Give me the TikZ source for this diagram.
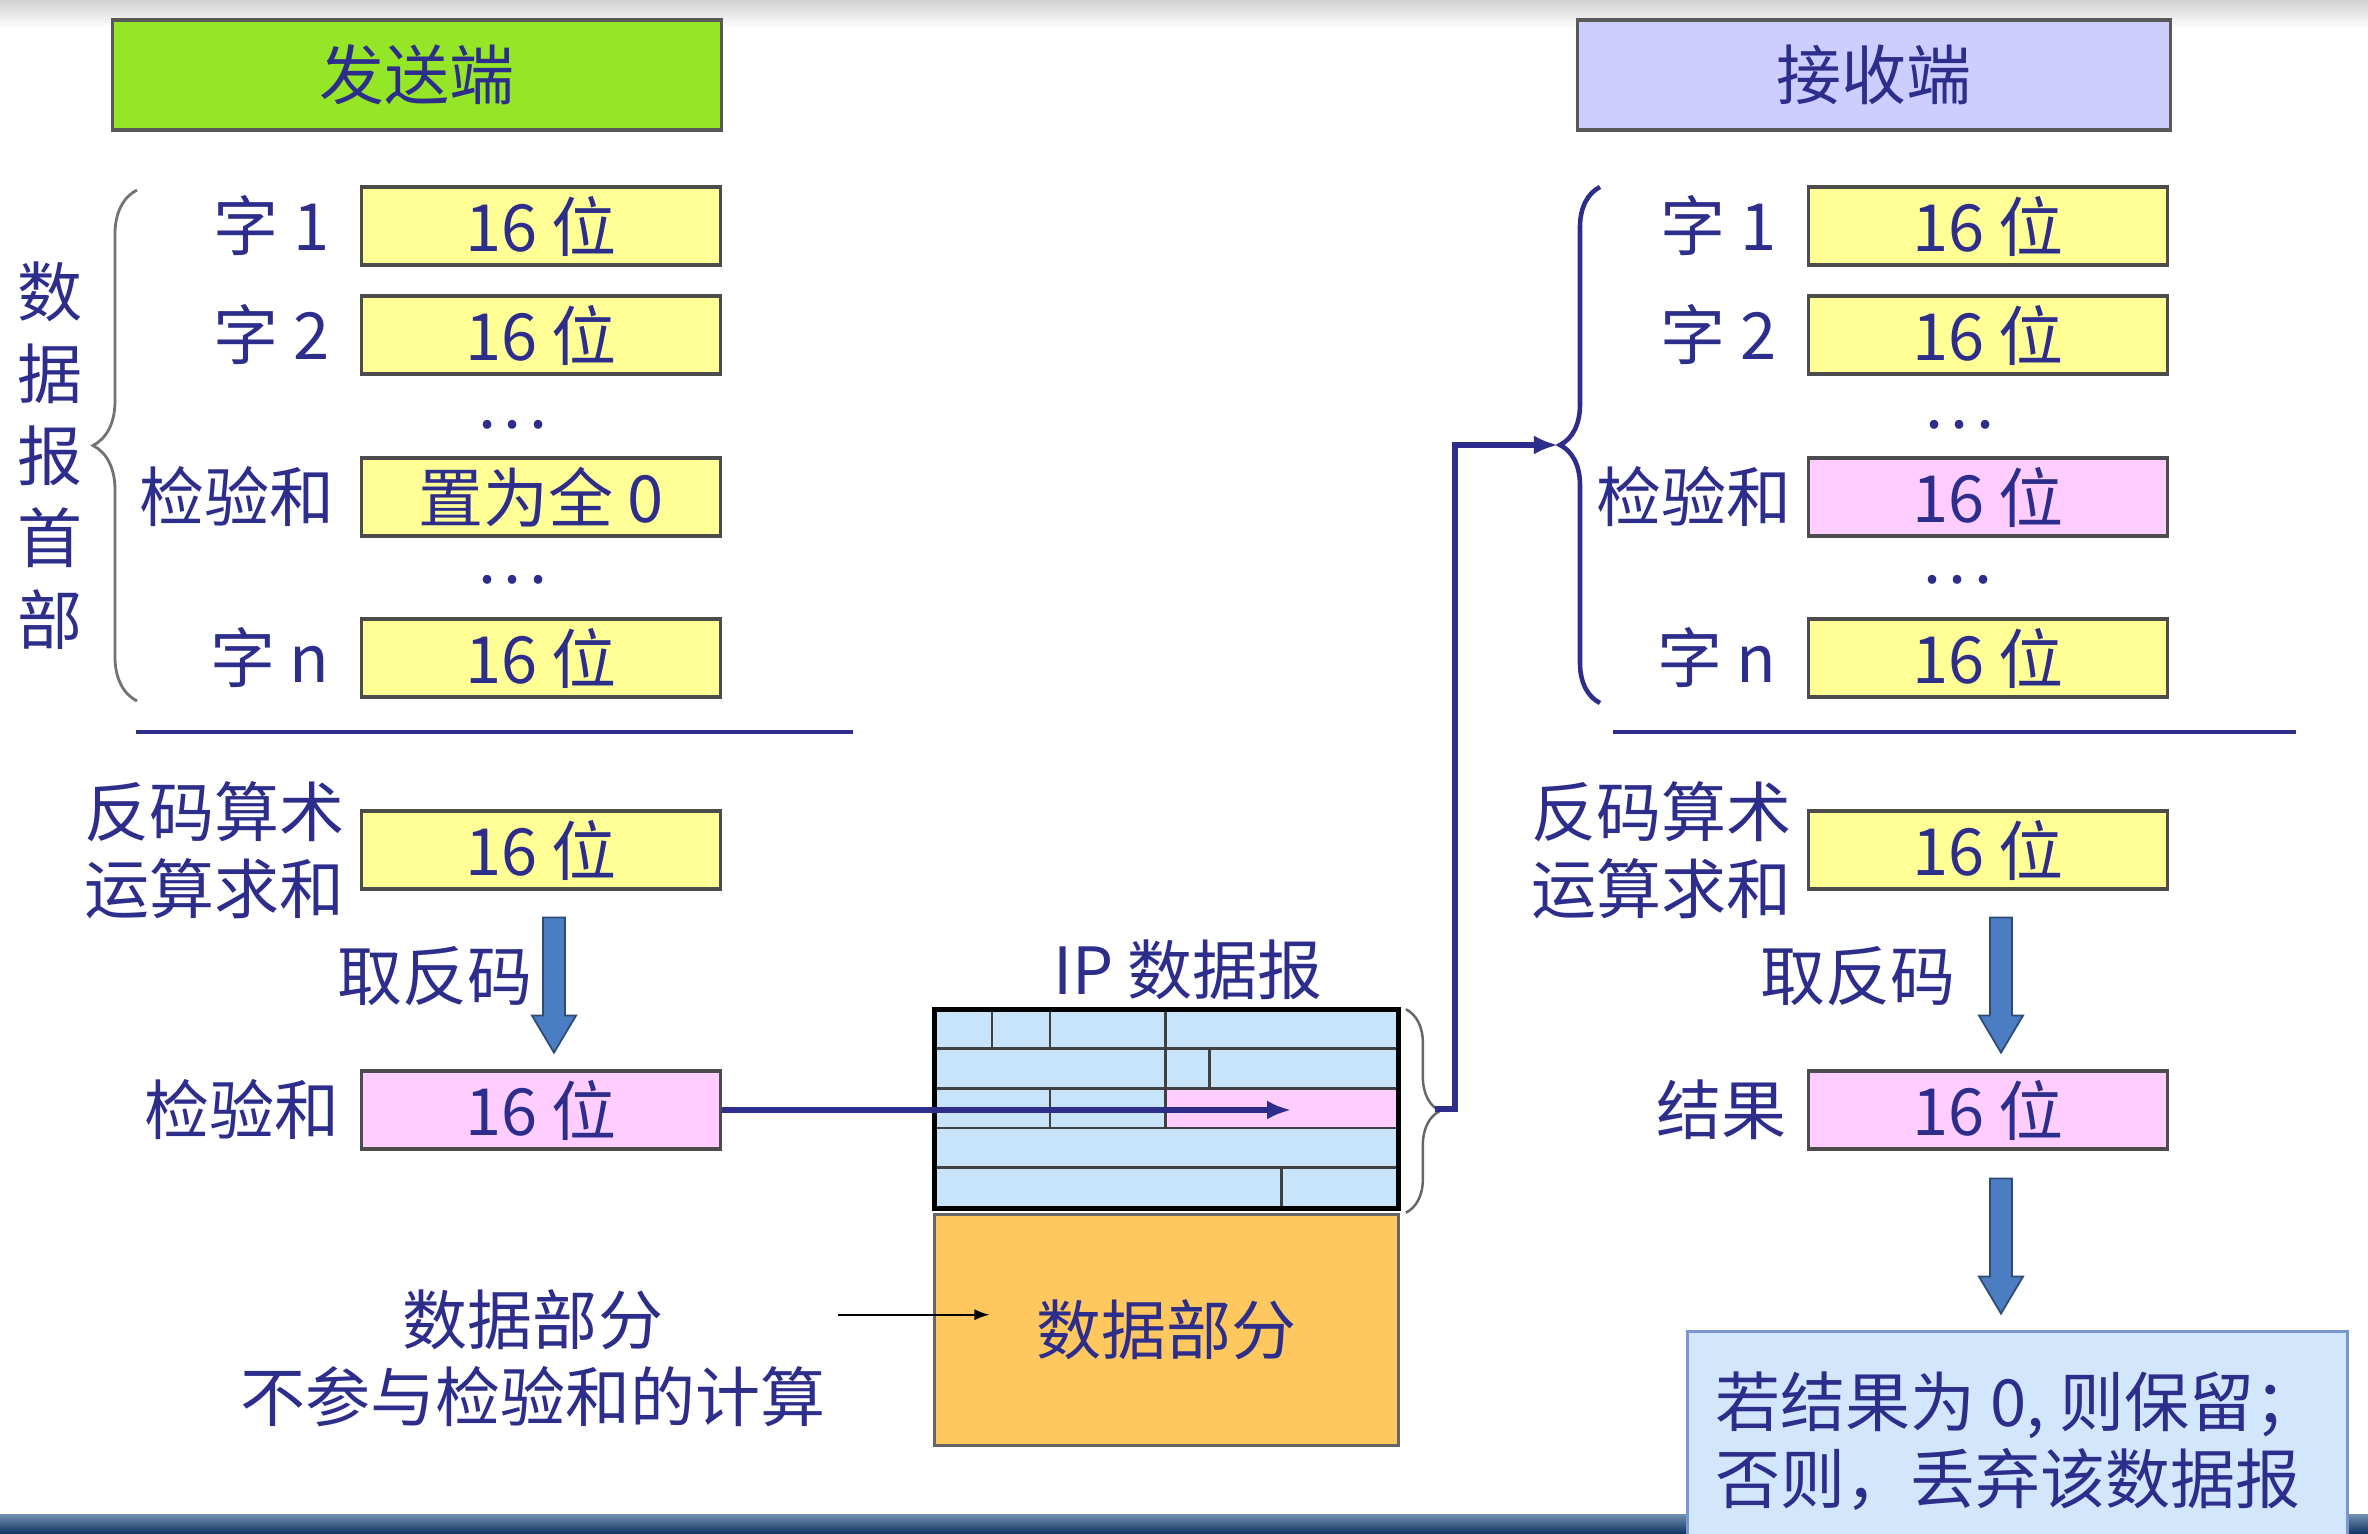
\documentclass[tikz,border=0pt]{standalone}
\usepackage{fontspec}
\setmainfont{Noto Sans CJK SC}
\usetikzlibrary{positioning,decorations.pathreplacing,arrows.meta}
\definecolor{ink}{RGB}{45,45,140}
\definecolor{wordyellow}{RGB}{255,255,150}
\definecolor{pinkbox}{RGB}{255,205,255}
\definecolor{sendgreen}{RGB}{150,230,40}
\definecolor{recvlav}{RGB}{205,205,255}
\definecolor{hdrblue}{RGB}{200,228,250}
\definecolor{dataorange}{RGB}{255,200,95}
\definecolor{verdictblue}{RGB}{210,230,252}
\definecolor{verdictedge}{RGB}{120,150,210}
\definecolor{fatblue}{RGB}{75,125,195}
\definecolor{bandtop}{RGB}{110,140,175}
\definecolor{bandbot}{RGB}{15,50,95}
\newcommand\fatdown[1]{\filldraw[fatarrow] #1 ++(-11,0) -- ++(0,98) -- ++(-11,0) -- ++(22,37) -- ++(22,-37) -- ++(-11,0) -- ++(0,-98) -- cycle;}

\begin{document}
\begin{tikzpicture}[x=0.01cm, y=-0.01cm, font=\fontsize{18.5}{22}\selectfont, text=ink,
    >={Latex[length=0.24cm,width=0.19cm]},
    field/.style={draw=black!70, line width=0.9pt, fill=wordyellow, minimum width=3.58cm, minimum height=0.78cm, inner sep=0},
    pinkfield/.style={field, fill=pinkbox},
    lbl/.style={inner sep=0, align=right},
    endbox/.style={draw=black!65, line width=0.9pt, minimum height=1.1cm, inner sep=0},
    link/.style={draw=ink, line width=1.8pt},
    divider/.style={draw=ink, line width=1.4pt},
    fatarrow/.style={fill=fatblue, draw=fatblue!60!black, line width=0.5pt},
    gridline/.style={draw=black!75, line width=0.8pt},
    thinarrow/.style={draw=black, line width=0.5pt, -{Latex[length=0.15cm,width=0.11cm]}},
    curly/.style={decorate, decoration={brace, amplitude=#1}}]
  \useasboundingbox (0,0) rectangle (2368,1534);
  \clip (0,0) rectangle (2368,1534);
  \fill[white] (0,0) rectangle (2368,1534);
  \shade[top color=black!18, bottom color=white] (0,0) rectangle (2368,28);
  \shade[top color=bandtop, bottom color=bandbot] (0,1515) rectangle (2368,1534);

  \node[endbox, fill=sendgreen, minimum width=6.09cm] (snd) at (417,75) {发送端};
  \node[endbox, fill=recvlav, minimum width=5.93cm] (rcv) at (1874,75) {接收端};

  \node[field] (sw1) at (541,226) {16 位};
  \node[field] (sw2) at (541,335) {16 位};
  \node[field] (scs) at (541,497) {置为全 0};
  \node[field] (swn) at (541,658) {16 位};
  \node[lbl, left=0.3cm of sw1] (sl1) {字 1};
  \node[lbl, left=0.3cm of sw2] (sl2) {字 2};
  \node[lbl, left=0.25cm of scs] (slcs) {检验和};
  \node[lbl, left=0.3cm of swn] (sln) {字 n};
  \node (sd1) at (513,425) {.\hspace{2pt}.\hspace{2pt}.};
  \node (sd2) at (513,580) {.\hspace{2pt}.\hspace{2pt}.};
  \draw[curly=0.44cm, draw=black!55, line width=0.8pt] (137,701) -- (137,190);
  \foreach \c [count=\i from 0] in {数,据,报,首,部}
    \node (vt\i) at (50,292+82*\i) {\c};
  \draw[divider] (136,732) -- (853,732);

  \node[field] (ssum) at (541,850) {16 位};
  \node[lbl, left=0.15cm of ssum] (ssuml) {反码算术\\运算求和};
  \fatdown{([xshift=0.13cm,yshift=-0.27cm]ssum.south)}
  \node[lbl, anchor=east] (sinv) at (533,976) {取反码};
  \node[pinkfield] (scsum) at (541,1110) {16 位};
  \node[lbl, left=0.2cm of scsum] (scsuml) {检验和};

  \node[fill=hdrblue, minimum width=4.63cm, minimum height=1.98cm, inner sep=0] (hdr) at (1166.5,1109) {};
  \begin{scope}[shift={(hdr.north west)}]
    \fill[pinkbox] (231.5,79.2) rectangle (463,118.8);
    \foreach \r in {1,...,4}
      \draw[gridline] (0,39.6*\r) -- (463,39.6*\r);
    \foreach \b/\r in {4/0,8/0,16/0,16/1,19/1,8/2,16/2,24/4}
      \draw[gridline] (14.47*\b,39.6*\r) -- (14.47*\b,39.6*\r+39.6);
    \coordinate (chk) at (357,99);
  \end{scope}
  \draw[line width=1.4pt] (hdr.north west) rectangle (hdr.south east);
  \node (iplbl) at (1188,970) {IP 数据报};
  \node[draw=black!60, line width=0.8pt, fill=dataorange, minimum width=4.63cm, minimum height=2.31cm, inner sep=0, below=0.04cm of hdr] (data) {数据部分};
  \draw[curly=0.34cm, draw=black!60, line width=0.7pt] ([xshift=2pt]hdr.north east) -- ([xshift=2pt,yshift=-0.04cm]hdr.south east);
  \coordinate (hdrtip) at ([xshift=0.36cm]hdr.east);
  \draw[link,->] (scsum.east) -- (scsum.east -| chk);

  \node[align=center] (note) at (533,1358) {数据部分\\不参与检验和的计算};
  \coordinate (datain) at ([xshift=0.56cm,yshift=0.15cm]data.west);
  \draw[thinarrow] (note.east |- datain) -- (datain);

  \node[field] (rw1) at (1988,226) {16 位};
  \node[field] (rw2) at (1988,335) {16 位};
  \node[pinkfield] (rcs) at (1988,497) {16 位};
  \node[field] (rwn) at (1988,658) {16 位};
  \node[lbl, left=0.3cm of rw1] (rl1) {字 1};
  \node[lbl, left=0.3cm of rw2] (rl2) {字 2};
  \node[lbl, left=0.15cm of rcs] (rlcs) {检验和};
  \node[lbl, left=0.3cm of rwn] (rln) {字 n};
  \node (rd1) at (1960,425) {.\hspace{2pt}.\hspace{2pt}.};
  \node (rd2) at (1958,580) {.\hspace{2pt}.\hspace{2pt}.};
  \draw[curly=0.4cm, draw=ink, line width=1.3pt] (1600,703) -- (1600,187);
  \coordinate (rcvtip) at (1558,445);
  \coordinate (vbar) at (1455,445);
  \draw[link,->] (hdrtip) -| (vbar) -- (rcvtip);
  \draw[divider] (1613,732) -- (2296,732);

  \node[field] (rsum) at (1988,850) {16 位};
  \node[lbl, left=0.15cm of rsum] (rsuml) {反码算术\\运算求和};
  \fatdown{([xshift=0.13cm,yshift=-0.27cm]rsum.south)}
  \node[lbl, anchor=east] (rinv) at (1956,976) {取反码};
  \node[pinkfield] (rres) at (1988,1110) {16 位};
  \node[lbl, left=0.2cm of rres] (rresl) {结果};
  \fatdown{([xshift=0.13cm,yshift=-0.28cm]rres.south)}

  \node[anchor=north west, fill=verdictblue, draw=verdictedge, line width=0.8pt, align=left, inner xsep=0.28cm, inner ysep=0.4cm, minimum width=6.55cm] (verdict) at (1686,1330) {若结果为 0, 则保留；\\否则，丢弃该数据报};
\end{tikzpicture}
\end{document}
